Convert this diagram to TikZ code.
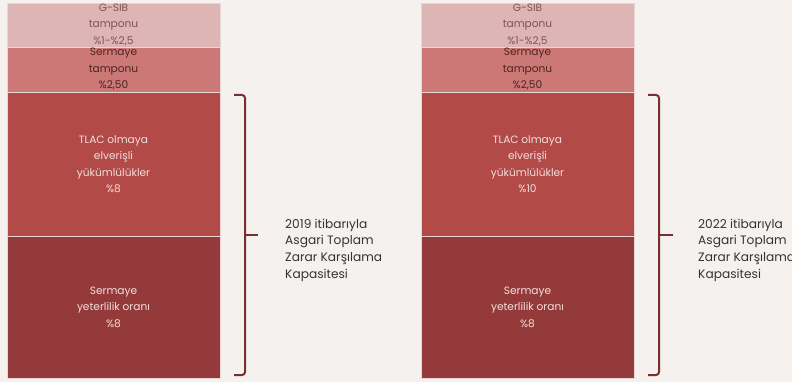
\documentclass[tikz,border=0pt]{standalone}
\usepackage{fontspec}
\setmainfont{Poppins}
\definecolor{bg}{HTML}{F4F1EE}
\definecolor{cA}{HTML}{DDB5B5}
\definecolor{cB}{HTML}{CB7877}
\definecolor{cC}{HTML}{B24A48}
\definecolor{cD}{HTML}{943A3A}
\definecolor{tA}{HTML}{845252}
\definecolor{tB}{HTML}{4E2424}
\definecolor{tC}{HTML}{F4DEDE}
\definecolor{segline}{HTML}{EAD6D4}
\definecolor{bracec}{HTML}{7B2D30}
\definecolor{sidet}{HTML}{333333}
\begin{document}
\begin{tikzpicture}[x=1pt,y=-1pt]
\tikzset{
  seg/.style={rectangle, draw=segline, line width=0.7pt, minimum width=213pt, inner sep=0pt, align=center, font=\fontsize{10.6}{16.5}\selectfont},
  sidetext/.style={anchor=west, inner sep=0pt, align=left, text=sidet, font=\fontsize{12.2}{16.7}\selectfont},
  bracepath/.style={draw=bracec, line width=2pt, rounded corners=3pt}
}
\fill[bg] (0,0) rectangle (792,382);
\useasboundingbox (0,0) rectangle (792,382);

% left column
\node[seg, fill=cA, text=tA, minimum height=44pt] (l1) at (113.5,25) {G-SIB\\tamponu\\\%1-\%2,5};
\node[seg, fill=cB, text=tB, minimum height=45pt] (l2) at (113.5,69.5) {Sermaye\\tamponu\\\%2,50};
\node[seg, fill=cC, text=tC, minimum height=144pt] (l3) at (113.5,164) {TLAC olmaya\\elverişli\\yükümlülükler\\\%8};
\node[seg, fill=cD, text=tC, minimum height=142pt] (l4) at (113.5,307) {Sermaye\\yeterlilik oranı\\\%8};

% right column
\node[seg, fill=cA, text=tA, minimum height=44pt] (r1) at (527.5,25) {G-SIB\\tamponu\\\%1-\%2,5};
\node[seg, fill=cB, text=tB, minimum height=45pt] (r2) at (527.5,69.5) {Sermaye\\tamponu\\\%2,50};
\node[seg, fill=cC, text=tC, minimum height=144pt] (r3) at (527.5,164) {TLAC olmaya\\elverişli\\yükümlülükler\\\%10};
\node[seg, fill=cD, text=tC, minimum height=142pt] (r4) at (527.5,307) {Sermaye\\yeterlilik oranı\\\%8};

% braces
\draw[bracepath] (234,95) -- (245,95) -- (245,375) -- (234,375);
\draw[draw=bracec, line width=2pt] (245,235) -- (258,235);
\draw[bracepath] (648,95) -- (659,95) -- (659,375) -- (648,375);
\draw[draw=bracec, line width=2pt] (659,235) -- (673,235);

% side texts
\begin{scope}
\clip (280,200) rectangle (380,300);
\node[sidetext] (lt) at (285,250) {2019 itibarıyla\\Asgari Toplam\\Zarar Karşılama\\Kapasitesi};
\end{scope}
\node[sidetext] (rt) at (698,250) {2022 itibarıyla\\Asgari Toplam\\Zarar Karşılama\\Kapasitesi};
\end{tikzpicture}
\end{document}
